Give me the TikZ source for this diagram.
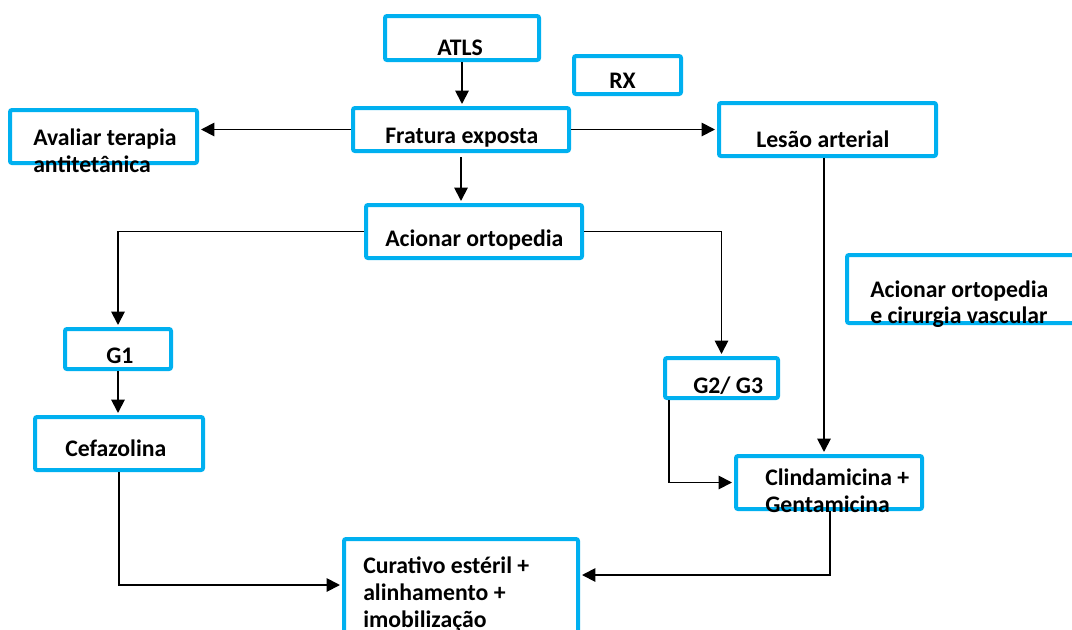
\documentclass[tikz,border=0pt]{standalone}
\usepackage{fontspec}
\setmainfont{Carlito}
\usetikzlibrary{fit,arrows.meta}
\definecolor{boxblue}{HTML}{00B0F0}
\tikzset{
  x=0.75pt, y=-0.75pt,
  box/.style={draw=boxblue, line width=3pt, rounded corners=1.5pt, inner sep=0pt},
  lbl/.style={anchor=base west, inner sep=0pt, font=\fontsize{17.8}{20}\selectfont\bfseries},
  arr/.style={line width=1.4pt, -{Triangle[length=10pt,width=10pt]}, shorten >=1.5pt},
}
\begin{document}
\begin{tikzpicture}
\useasboundingbox (0,0) rectangle (1072,629);
% boxes
\node[box, fit={(385,16)(539,60)}] (atls) {};
\node[box, fit={(574,56)(681,94)}] (rx) {};
\node[box, fit={(353,108)(569,151)}] (frat) {};
\node[box, fit={(10,110)(197,163)}] (aval) {};
\node[box, fit={(719,103)(936,156)}] (lesao) {};
\node[box, fit={(366,205)(582,258)}] (acio) {};
\node[box, fit={(847,255)(1110,323)}] (acv) {};
\node[box, fit={(65,329)(171,369)}] (g1) {};
\node[box, fit={(665,358)(778,398)}] (g23) {};
\node[box, fit={(35,417)(203,470)}] (cef) {};
\node[box, fit={(736,456)(922,509)}] (clin) {};
\node[box, fit={(344,539)(578,680)}] (cur) {};
% texts
\node[lbl] (tatls) at (437,55) {ATLS};
\node[lbl] (trx) at (609,88) {RX};
\node[lbl] (tfrat) at (385,143) {Fratura exposta};
\node[lbl] (taval1) at (33,145) {Avaliar terapia};
\node[lbl] (taval2) at (33,172) {antitetânica};
\node[lbl] (tlesao) at (756,147) {Lesão arterial};
\node[lbl] (tacio) at (385,246) {Acionar ortopedia};
\node[lbl] (tacv1) at (870,297) {Acionar ortopedia};
\node[lbl] (tacv2) at (870,323) {e cirurgia vascular};
\node[lbl] (tg1) at (106,363) {G1};
\node[lbl] (tg23) at (693,393) {G2/ G3};
\node[lbl] (tcef) at (65,456) {Cefazolina};
\node[lbl] (tclin1) at (765,485) {Clindamicina +};
\node[lbl] (tclin2) at (765,512) {Gentamicina};
\node[lbl] (tcur1) at (363,573) {Curativo estéril +};
\node[lbl] (tcur2) at (363,600) {alinhamento +};
\node[lbl] (tcur3) at (363,627) {imobilização};
% helper coordinates
\coordinate (xa) at (824,0);
\coordinate (xb) at (669,0);
\coordinate (xc) at (119,0);
\coordinate (yc) at (0,585);
\coordinate (xd) at (830,0);
\coordinate (yd) at (0,575);
% connectors
\draw[arr] (atls.south) -- (frat.north -| atls.south);
\draw[arr] (frat.west) -- (aval.east |- frat.west);
\draw[arr] (frat.east) -- (lesao.west |- frat.east);
\draw[arr, shorten <=3pt] (frat.south) -- (acio.north -| frat.south);
\draw[arr] (acio.west) -| (g1.north);
\draw[arr] (acio.east) -| (g23.north);
\draw[arr] (g1.south) -- (cef.north -| g1.south);
\draw[arr] (lesao.south -| xa) -- (clin.north -| xa);
\draw[arr] (g23.south -| xb) |- (clin.west);
\draw[arr] (cef.south -| xc) |- (cur.west |- yc);
\draw[arr] (clin.south -| xd) |- (cur.east |- yd);
\end{tikzpicture}
\end{document}
